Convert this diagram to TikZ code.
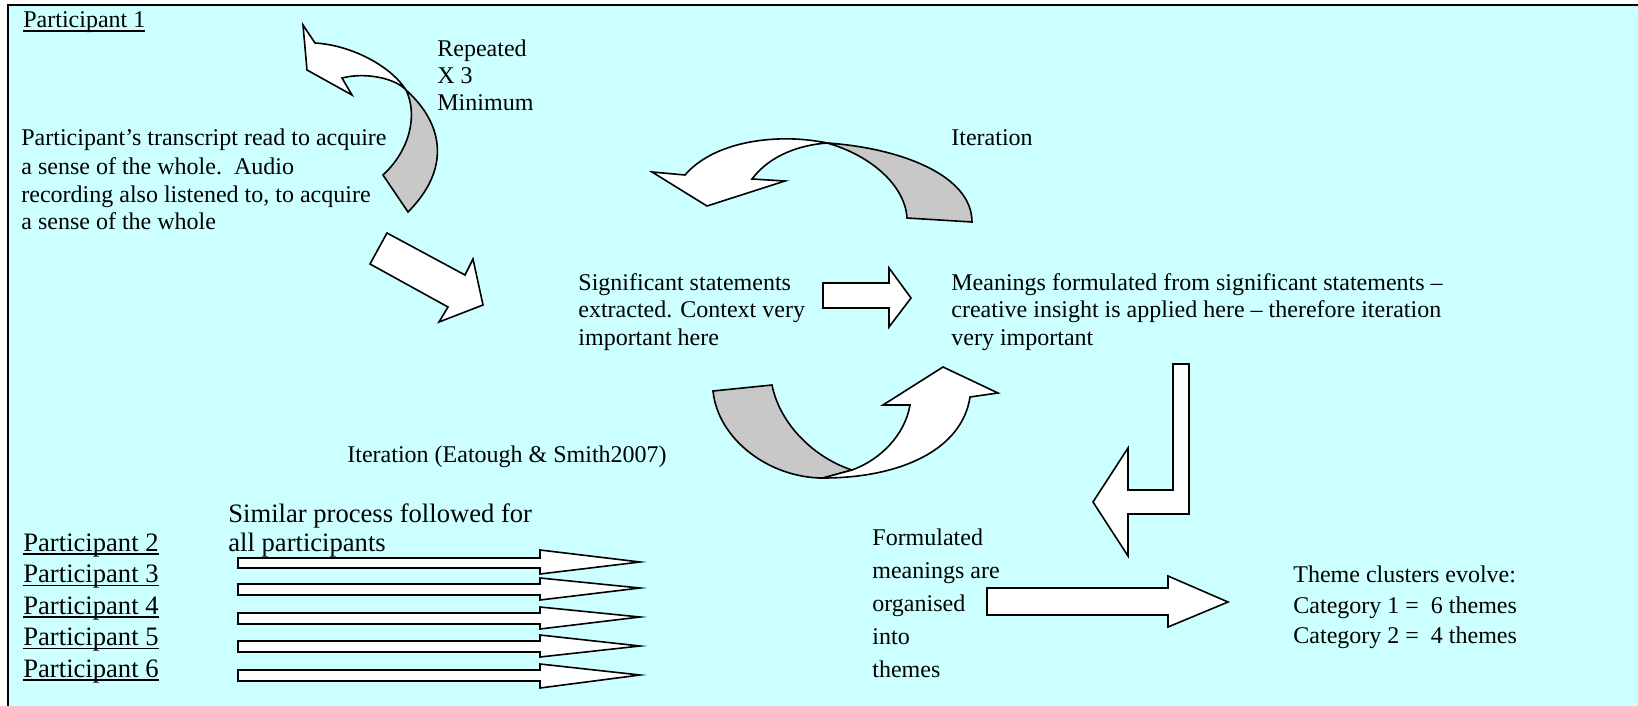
\documentclass[tikz,border=0pt]{standalone}
\usepackage{fontspec}
\setmainfont{Liberation Serif}
\definecolor{bg}{HTML}{CCFFFF}
\definecolor{shade}{HTML}{C8C8C8}
\newcommand\myul[1]{\setbox0\hbox{#1}\rlap{\rule[-1.9pt]{\wd0}{0.75pt}}\box0}
\begin{document}
\begin{tikzpicture}[x=0.5pt,y=-0.5pt,
  txt/.style={anchor=base west, inner sep=0pt, font=\fontsize{12}{14}\selectfont},
  bigtxt/.style={anchor=base west, inner sep=0pt, font=\fontsize{13.3}{16}\selectfont},
  blk/.style={draw=black, line width=0.8pt, fill=white, line join=miter},
  back/.style={draw=black, line width=0.8pt, fill=shade, line join=miter}]
\useasboundingbox (0,0) rectangle (1638,706);
\fill[white] (0,0) rectangle (1638,706);
\fill[bg] (8,5) rectangle (1645,715);
\draw[line width=1pt] (8,715) -- (8,5) -- (1645,5);

% curved arrow A (repeated)
\filldraw[back] (406,90) .. controls (445,125) and (450,170) .. (408,212) -- (383,175) .. controls (410,150) and (418,115) .. (406,90) -- cycle;
\filldraw[blk] (315,43) -- (303,25) -- (307,70) -- (352,95) -- (342,78) .. controls (365,72) and (395,78) .. (406,90) .. controls (390,65) and (350,45) .. (315,43) -- cycle;

% curved arrow B (top iteration)
\filldraw[back] (827,143) .. controls (900,148) and (972,175) .. (972,222) -- (907,218) .. controls (905,185) and (870,155) .. (827,143) -- cycle;
\filldraw[blk] (685,175) -- (652,172) -- (707,206) -- (785,181) -- (752,179) .. controls (770,155) and (800,145) .. (827,143) .. controls (780,133) and (715,140) .. (685,175) -- cycle;

% curved arrow C (bottom iteration)
\filldraw[back] (713,391) -- (772,385) .. controls (780,425) and (815,458) .. (852,470) -- (823,478) .. controls (770,478) and (718,440) .. (713,391) -- cycle;
\filldraw[blk] (852,470) .. controls (880,460) and (905,435) .. (910,405) -- (883,405) -- (943,367) -- (998,393) -- (970,397) .. controls (962,450) and (900,478) .. (823,478) -- cycle;

% straight arrows
\filldraw[blk] (387,233) -- (465,275) -- (473,259) -- (483,305) -- (439,322) -- (448,307) -- (370,264) -- cycle;
\filldraw[blk] (823,283) -- (889,283) -- (889,268) -- (911,298) -- (889,327) -- (889,308) -- (823,308) -- cycle;
\filldraw[blk] (1173,364) -- (1189,364) -- (1189,514) -- (1128,514) -- (1128,556) -- (1093,502) -- (1128,448) -- (1128,490) -- (1173,490) -- cycle;
\filldraw[blk] (987,588) -- (1168,588) -- (1168,576) -- (1228,602) -- (1168,627) -- (1168,615) -- (987,615) -- cycle;
\foreach \sa/\sb/\ha/\hb/\tp in {558/568/550/574/562, 584/595/578/600/588, 613/624/607/629/617, 641/652/635/657/646, 670/681/664/688/675}
  \filldraw[blk] (238,\sa) -- (540,\sa) -- (540,\ha) -- (640,\tp) -- (540,\hb) -- (540,\sb) -- (238,\sb) -- cycle;

% texts
\node[txt] (p1) at (23,28) {\myul{Participant 1}};
\node[txt] (rep1) at (437,57) {Repeated};
\node[txt] (rep2) at (437,84) {X 3};
\node[txt] (rep3) at (437,111) {Minimum};
\node[txt] (tr1) at (21,146) {Participant’s transcript read to acquire};
\node[txt] (tr2) at (21,174) {a sense of the whole.\ \ Audio};
\node[txt] (tr3) at (21,202) {recording also listened to, to acquire};
\node[txt] (tr4) at (21,229) {a sense of the whole};
\node[txt] (it1) at (951,146) {Iteration};
\node[txt] (ss1) at (578,290) {Significant statements};
\node[txt] (ss2) at (578,317) {extracted. Context very};
\node[txt] (ss3) at (578,345) {important here};
\node[txt] (mf1) at (951,290) {Meanings formulated from significant statements –};
\node[txt] (mf2) at (951,317) {creative insight is applied here – therefore iteration};
\node[txt] (mf3) at (951,345) {very important};
\node[txt] (it2) at (347,462) {Iteration (Eatough \& Smith2007)};
\node[bigtxt] (sp1) at (228,522) {Similar process followed for};
\node[bigtxt] (sp2) at (228,551) {all participants};
\node[bigtxt] (p2) at (23,551) {\myul{Participant 2}};
\node[bigtxt] (p3) at (23,582.5) {\myul{Participant 3}};
\node[bigtxt] (p4) at (23,614) {\myul{Participant 4}};
\node[bigtxt] (p5) at (23,645.5) {\myul{Participant 5}};
\node[bigtxt] (p6) at (23,677) {\myul{Participant 6}};
\node[txt] (fm1) at (872,545) {Formulated};
\node[txt] (fm2) at (872,578) {meanings are};
\node[txt] (fm3) at (872,611) {organised};
\node[txt] (fm4) at (872,644) {into};
\node[txt] (fm5) at (872,677) {themes};
\node[txt] (tc1) at (1293,582) {Theme clusters evolve:};
\node[txt] (tc2) at (1293,613) {Category 1 =\ \ 6 themes};
\node[txt] (tc3) at (1293,643) {Category 2 =\ \ 4 themes};
\end{tikzpicture}
\end{document}
